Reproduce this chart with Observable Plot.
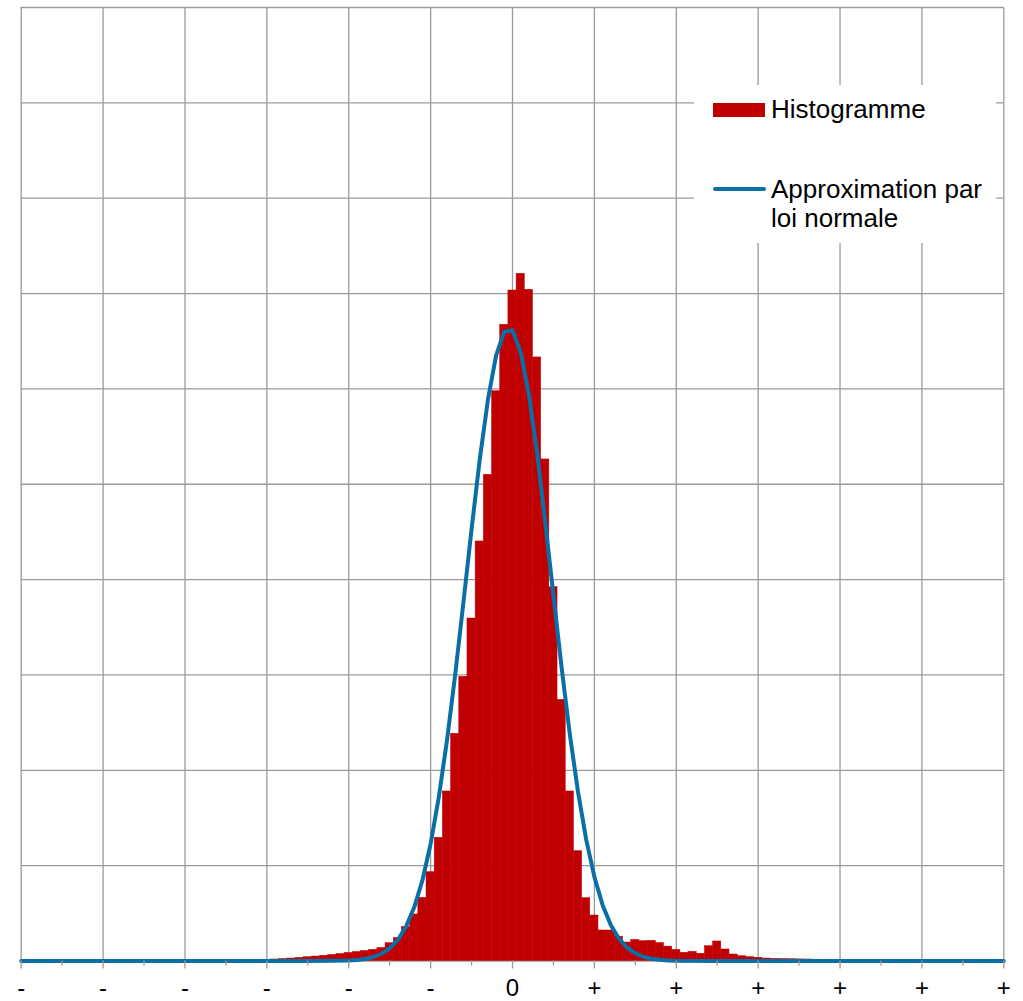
<!DOCTYPE html>
<html><head><meta charset="utf-8">
<script src="https://cdn.jsdelivr.net/npm/d3@7"></script>
<script src="https://cdn.jsdelivr.net/npm/@observablehq/plot@0.6"></script>
<style>
html,body{margin:0;padding:0;background:#fff;}
#wrap{position:relative;width:1023px;height:1001px;font-family:"Liberation Sans",Arial,sans-serif;overflow:hidden;}
#wrap svg{display:block;}
.lg{position:absolute;}
#lgbox{left:694px;top:85px;width:302px;height:158px;background:#fff;}
#sw1{left:713px;top:103px;width:52px;height:14px;background:#C00000;}
#sw2{left:713px;top:187px;width:53px;height:4px;background:#0A6FA6;border-radius:2px;}
.lt{font-size:26px;line-height:29px;color:#000;white-space:nowrap;}
#t1{left:771px;top:94.5px;}
#t2{left:771px;top:174.5px;}
</style></head><body><div id="wrap"></div>
<script>
// Histogram: bin centers (in sigma units) and bar heights
const binCenters = [-3.2,-3.1,-3.0,-2.9,-2.8,-2.7,-2.6,-2.5,-2.4,-2.3,-2.2,-2.1,-2.0,-1.9,-1.8,-1.7,-1.6,-1.5,-1.4,-1.3,-1.2,-1.1,-1.0,-0.9,-0.8,-0.7,-0.6,-0.5,-0.4,-0.3,-0.2,-0.1,0.0,0.1,0.2,0.3,0.4,0.5,0.6,0.7,0.8,0.9,1.0,1.1,1.2,1.3,1.4,1.5,1.6,1.7,1.8,1.9,2.0,2.1,2.2,2.3,2.4,2.5,2.6,2.7,2.8,2.9,3.0,3.1,3.2,3.3,3.4,3.5,3.6,3.7,3.8,3.9,4.0];
const binValues = [0.5,0.7,1.0,1.6,2.1,2.6,3.4,4.0,4.7,5.5,6.3,7.3,8.4,9.4,10.5,11.7,13.6,18.7,24.1,35.7,48.8,66.3,93.1,129.2,177.8,238.3,298.1,359.2,440.0,509.9,597.6,667.2,703.2,720.7,704.0,633.0,526.0,392.0,273.9,177.8,115.2,65.9,47.7,32.0,32.0,25.5,19.4,22.0,20.8,21.2,18.8,15.1,11.7,8.6,9.6,7.6,15.5,20.5,12.1,6.8,5.0,4.0,3.4,2.6,2.3,2.1,1.9,1.7,1.6,1.4,1.3,1.0,0.8];
const binWidth = 0.1;

// Normal approximation curve (sampled points)
const curveX = [-6,-2.5,-2.0,-1.9,-1.8,-1.7,-1.6,-1.5,-1.4,-1.3,-1.2,-1.1,-1.0,-0.9,-0.8,-0.7,-0.6,-0.5,-0.4,-0.3,-0.2,-0.1,0.0,0.1,0.2,0.3,0.4,0.5,0.6,0.7,0.8,0.9,1.0,1.1,1.2,1.3,1.4,1.5,1.6,1.7,1.8,1.9,2.0,2.5,6];
const curveY = [0,0,0.6,1.1,2.2,4.2,7.6,13.2,22.2,36.1,56.3,84.7,122.9,171.8,231.4,300.3,375.6,452.8,525.9,588.7,635.1,660.2,661.4,638.6,594.2,532.7,460.3,383.3,307.6,237.9,177.4,127.3,88.2,58.8,37.8,23.4,13.9,8.1,4.4,2.4,1.3,0.6,0.3,0,0];

// Axis ticks
const xTicks = [-6,-5,-4,-3,-2,-1,0,1,2,3,4,5,6];
const xTickLabels = ["-","-","-","-","-","-","0","+","+","+","+","+","+"];
const xMinorTicks = [-5.5,-4.5,-3.5,-2.5,-1.5,-0.5,0.5,1.5,2.5,3.5,4.5,5.5];
const yGrid = [0,100,200,300,400,500,600,700,800,900,1000];

const bins = binCenters.map((c, i) => ({x1: c - binWidth / 2, x2: c + binWidth / 2, y: binValues[i]}));
const curve = curveX.map((x, i) => ({x, y: curveY[i]}));
const labels = xTicks.map((t, i) => ({t, label: xTickLabels[i]}));

const gridColor = "#9a9a9a";

const chart = Plot.plot({
  width: 1023,
  height: 1001,
  marginLeft: 20.7,
  marginRight: 19.7,
  marginTop: 7,
  marginBottom: 40.5,
  x: {domain: [-6, 6]},
  y: {domain: [0, 1000], axis: null},
  style: {fontFamily: "'Liberation Sans', Arial, sans-serif", background: "white", color: "black"},
  marks: [
    Plot.ruleX(xTicks, {x: d => d, stroke: gridColor, strokeWidth: 1.3}),
    Plot.ruleY(yGrid, {y: d => d, stroke: gridColor, strokeWidth: 1.3}),
    Plot.rectY(bins, {x1: "x1", x2: "x2", y: "y", fill: "#C00000", stroke: "#C00000", strokeWidth: 0.5}),
    Plot.line(curve, {x: "x", y: "y", stroke: "#0A6FA6", strokeWidth: 4, strokeLinejoin: "round", strokeLinecap: "round"}),
    Plot.axisX(xTicks, {tickSize: 8, tickFormat: () => "", stroke: gridColor, strokeWidth: 1.3}),
    Plot.axisX(xMinorTicks, {tickSize: 5, tickFormat: () => "", stroke: gridColor, strokeWidth: 1.3}),
    Plot.text(labels, {x: "t", text: "label", frameAnchor: "bottom", lineAnchor: "top", dy: 18, fontSize: 24, fill: "black"})
  ]
});

const wrap = document.getElementById("wrap");
wrap.appendChild(chart);
wrap.insertAdjacentHTML("beforeend",
  '<div class="lg" id="lgbox"></div>' +
  '<div class="lg" id="sw1"></div>' +
  '<div class="lg lt" id="t1">Histogramme</div>' +
  '<div class="lg" id="sw2"></div>' +
  '<div class="lg lt" id="t2">Approximation par<br>loi normale</div>');
</script>
</body></html>
